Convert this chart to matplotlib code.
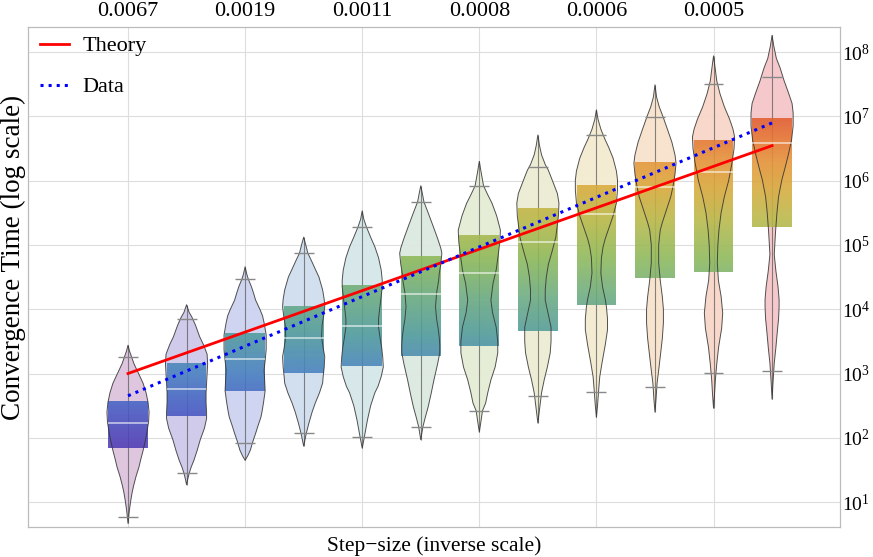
import numpy as np
import matplotlib.pyplot as plt
from matplotlib.colors import LinearSegmentedColormap, Normalize, to_rgba
from matplotlib.ticker import NullLocator

plt.rcParams['font.family'] = ['Liberation Serif', 'DejaVu Serif']
plt.rcParams['mathtext.fontset'] = 'stix'

# step-size labels shown on the top axis (every other violin)
step_labels = ['0.0067', '0.0019', '0.0011', '0.0008', '0.0006', '0.0005']
positions = np.arange(12)

# box (IQR) and median values, convergence time
box_lo = [69, 219, 537, 1023, 1318, 1862, 2692, 4571, 11749, 30903, 38019, 190546]
box_med = [170, 575, 1700, 3550, 5500, 17400, 36300, 110000, 302000, 794000, 1.35e6, 3.8e6]
box_hi = [372, 1445, 4266, 11220, 23988, 67608, 141254, 371535, 851138, 1.95e6, 4.27e6, 9.33e6]

# whisker caps
cap_lo = [5.9, 28, 83, 117, 102, 148, 263, 447, 513, 617, 1023, 1096]
cap_hi = [1820, 7080, 29500, 74000, 190000, 468000, 832000, 1.62e6, 5.13e6, 9.77e6, 3.16e7, 4.07e7]

# violin outlines: (log10 time, relative half-width), top to bottom
shapes = [
    [(3.44, 0), (3.35, 1.5), (3.26, 3.5), (3.15, 6), (3.05, 9), (2.95, 12), (2.85, 15),
     (2.7, 18), (2.55, 20), (2.4, 21), (2.25, 20.5), (2.1, 19), (1.97, 17.5), (1.8, 15),
     (1.65, 12.5), (1.55, 11), (1.4, 8), (1.25, 5.5), (1.14, 4), (1.0, 2.5), (0.85, 1.2),
     (0.67, 0)],
    [(4.07, 0), (3.95, 2.5), (3.88, 5), (3.75, 8.5), (3.57, 12.5), (3.45, 16), (3.3, 19.5),
     (3.15, 20), (3.0, 19.5), (2.85, 19), (2.7, 18.5), (2.55, 18.5), (2.4, 19), (2.3, 19),
     (2.15, 17), (1.97, 13), (1.8, 10), (1.65, 7), (1.55, 4.5), (1.45, 2.5), (1.35, 1),
     (1.27, 0)],
    [(4.66, 0), (4.55, 1.5), (4.47, 3), (4.35, 6), (4.25, 8), (4.14, 10), (4.0, 14),
     (3.9, 16.5), (3.79, 18), (3.6, 20), (3.45, 20), (3.37, 20), (3.2, 19), (3.05, 18),
     (2.9, 18.5), (2.73, 19), (2.55, 17.5), (2.4, 16), (2.32, 15), (2.2, 12.5), (2.07, 10),
     (1.95, 7.5), (1.81, 5), (1.72, 2.5), (1.65, 0)],
    [(5.12, 0), (5.0, 2), (4.87, 4), (4.75, 7.5), (4.66, 10), (4.5, 14.5), (4.3, 18),
     (4.15, 19.5), (4.04, 20), (3.9, 19), (3.75, 17.5), (3.57, 17), (3.4, 18.5), (3.26, 20),
     (3.1, 19.5), (2.95, 18.5), (2.85, 18), (2.7, 15), (2.54, 11), (2.4, 8), (2.23, 5),
     (2.07, 2.5), (1.95, 1), (1.87, 0)],
    [(5.53, 0), (5.4, 1.5), (5.28, 4), (5.12, 8), (4.97, 12), (4.8, 15.5), (4.61, 18),
     (4.45, 19), (4.35, 19), (4.2, 18), (4.0, 16.5), (3.85, 15.5), (3.72, 15.5), (3.55, 17),
     (3.4, 18.5), (3.25, 19.5), (3.1, 20), (2.95, 18), (2.8, 15), (2.7, 12), (2.5, 8),
     (2.28, 5), (2.1, 3), (2.01, 2), (1.84, 0)],
    [(5.92, 0), (5.8, 1.5), (5.67, 3), (5.5, 7), (5.28, 12), (5.1, 16), (4.95, 19),
     (4.87, 20), (4.7, 19), (4.55, 17.5), (4.45, 17), (4.25, 15), (4.04, 14), (3.85, 15),
     (3.7, 16.5), (3.57, 17.5), (3.45, 18), (3.32, 18), (3.15, 16), (2.9, 12.5), (2.7, 10),
     (2.48, 7), (2.3, 4), (2.17, 2), (1.97, 0)],
    [(6.30, 0), (6.15, 1.5), (5.92, 4), (5.78, 8), (5.65, 12), (5.45, 16.5), (5.23, 20),
     (5.05, 19.5), (4.85, 18), (4.61, 16), (4.4, 13), (4.14, 11), (3.95, 12.5), (3.72, 16),
     (3.5, 17.5), (3.32, 17.5), (3.1, 15), (2.9, 11), (2.7, 8), (2.54, 6), (2.42, 3),
     (2.25, 1.5), (2.09, 0)],
    [(6.71, 0), (6.55, 1.5), (6.40, 3.5), (6.25, 7), (6.16, 10), (5.95, 15), (5.8, 18.5),
     (5.65, 20), (5.45, 19.5), (5.25, 18), (5.12, 17), (4.9, 13.5), (4.7, 10), (4.5, 8),
     (4.3, 7), (4.14, 7), (3.95, 9.5), (3.72, 12.5), (3.5, 12.5), (3.32, 11.7), (3.1, 9),
     (2.9, 6), (2.7, 3.5), (2.5, 2), (2.23, 0)],
    [(7.10, 0), (6.95, 1.5), (6.80, 4), (6.65, 7.5), (6.52, 11), (6.35, 15), (6.15, 18),
     (6.01, 19), (5.85, 19), (5.65, 18), (5.45, 15), (5.25, 11), (5.1, 8), (4.97, 6),
     (4.8, 4.5), (4.56, 4), (4.35, 5.5), (4.15, 8), (4.04, 9), (3.85, 10), (3.68, 10),
     (3.45, 8), (3.16, 5), (2.95, 3), (2.74, 2), (2.5, 1), (2.32, 0)],
    [(7.49, 0), (7.3, 1.5), (7.15, 4), (7.0, 7.5), (6.79, 12), (6.6, 16), (6.4, 19),
     (6.27, 20), (6.1, 19), (5.9, 17), (5.75, 15), (5.55, 11), (5.35, 7), (5.23, 5),
     (5.0, 3.5), (4.72, 3.5), (4.45, 5), (4.19, 7), (4.0, 8), (3.79, 8), (3.55, 7),
     (3.26, 5), (3.05, 3.5), (2.85, 2), (2.6, 1), (2.40, 0)],
    [(7.94, 0), (7.75, 1.5), (7.55, 3), (7.35, 6), (7.15, 10), (6.95, 15), (6.8, 18),
     (6.68, 19.5), (6.5, 19), (6.27, 17), (6.0, 14), (5.75, 10), (5.5, 7), (5.23, 5),
     (5.0, 4), (4.72, 3.5), (4.45, 4.5), (4.2, 7), (3.94, 8.5), (3.7, 7.5), (3.41, 4.7),
     (3.15, 3), (2.9, 1.7), (2.7, 1), (2.46, 0)],
    [(8.26, 0), (8.1, 1.5), (7.9, 4), (7.75, 7.5), (7.56, 11), (7.35, 15.5), (7.2, 18.5),
     (7.05, 19.5), (6.85, 19.5), (6.63, 18), (6.4, 15), (6.2, 12), (6.01, 9), (5.75, 6),
     (5.5, 4.5), (5.23, 3.3), (5.0, 2.5), (4.85, 2), (4.6, 3.5), (4.35, 5.5), (4.15, 6.5),
     (4.04, 6.5), (3.85, 6), (3.68, 5), (3.4, 3.5), (3.16, 2), (2.9, 1), (2.60, 0)],
]

violin_colors = ['#dcc3dd', '#cec8ea', '#cdd2f0', '#cfdeee', '#d5e7ea', '#dce9e0',
                 '#e4ecd5', '#ecedd3', '#f3ebd0', '#f8e3cc', '#f8d6c8', '#f5c6c9']

# fitted lines at first and last step size
line_x = [0, 11]
theory = [1.0e3, 3.5e6]
data_fit = [4.5e2, 7.9e6]

grad_levels = [1.8, 2.5, 3.0, 3.6, 4.2, 4.8, 5.4, 5.9, 6.3, 6.7, 7.0]
grad_colors = ['#5038b4', '#4660c4', '#4780c0', '#4f9a9c', '#6aaa80', '#8cb858',
               '#b8b848', '#d8aa3c', '#e4963a', '#e47432', '#e05a30']
lo, hi = grad_levels[0], grad_levels[-1]
cmap = LinearSegmentedColormap.from_list(
    'grad', [((v - lo) / (hi - lo), c) for v, c in zip(grad_levels, grad_colors)])
norm = Normalize(lo, hi)

fig = plt.figure(figsize=(8.73, 5.57), dpi=100)
ax = fig.add_axes([28 / 873, 30 / 557, 812 / 873, 500 / 557])
ax.set_yscale('log')

def stats_list():
    out = []
    for shp, med in zip(shapes, box_med):
        ly, w = np.array(shp, float).T
        c = 10 ** ly[::-1]
        out.append({'coords': c, 'vals': w[::-1], 'mean': med,
                    'median': med, 'min': c[0], 'max': c[-1]})
    return out

vp = ax.violin(stats_list(), positions=positions, widths=0.72,
               showmeans=False, showextrema=False, showmedians=False)
for body, col in zip(vp['bodies'], violin_colors):
    body.set_alpha(None)
    body.set_facecolor(to_rgba(col, 0.95))
    body.set_edgecolor('none')
    body.set_zorder(2)

tips_lo = [10 ** s[-1][0] for s in shapes]
tips_hi = [10 ** s[0][0] for s in shapes]
ax.vlines(positions, tips_lo, tips_hi, color='#555555', lw=0.8, alpha=0.7, zorder=2.5)

bw = 0.34
for p, a, b in zip(positions, box_lo, box_hi):
    ys = np.logspace(np.log10(a), np.log10(b), 60)
    mids = np.log10(np.sqrt(ys[:-1] * ys[1:]))[:, None]
    ax.pcolormesh([p - bw, p + bw], ys, mids, cmap=cmap, norm=norm,
                  alpha=0.88, shading='flat', zorder=3, edgecolors='none')

vp2 = ax.violin(stats_list(), positions=positions, widths=0.72,
                showmeans=False, showextrema=False, showmedians=False)
for body in vp2['bodies']:
    body.set_alpha(None)
    body.set_facecolor('none')
    body.set_edgecolor(to_rgba('#333333', 0.85))
    body.set_linewidth(0.7)
    body.set_zorder(4)

ax.hlines(cap_lo, positions - 0.17, positions + 0.17, color='#888888', lw=1, zorder=4)
ax.hlines(cap_hi, positions - 0.17, positions + 0.17, color='#888888', lw=1, zorder=4)
ax.hlines(box_med, positions - bw, positions + bw, color='white', alpha=0.65, lw=1.2, zorder=5)

ax.plot(line_x, theory, color='red', lw=2, label='Theory', zorder=6)
ax.plot(line_x, data_fit, color='blue', lw=2.2, ls=':', label='Data', zorder=6)

xlim = (-1.708, 12.16)
ax.set_xlim(xlim)
ax.set_ylim(4.1, 2.45e8)
ax.set_xticks(positions[::2])
ax.set_xticklabels([])
ax.set_yticks([10.0 ** k for k in range(1, 9)])
ax.yaxis.set_minor_locator(NullLocator())
ax.yaxis.tick_right()
ax.tick_params(axis='both', length=0, labelsize=14)
ax.tick_params(axis='y', pad=1.5)
ax.grid(True, color='#dddddd', lw=0.8)
ax.set_axisbelow(True)

ax2 = ax.twiny()
ax2.set_xlim(xlim)
ax2.set_xticks(positions[::2])
ax2.set_xticklabels(step_labels)
ax2.tick_params(axis='x', length=0, labelsize=16, pad=4)

for a in (ax, ax2):
    for s in a.spines.values():
        s.set_color('#bbbbbb')

ax.set_xlabel('Step\u2212size (inverse scale)', fontsize=15.5, labelpad=3)
ax.set_ylabel('Convergence Time (log scale)', fontsize=19.5)
ax.yaxis.set_label_position('left')
ax.yaxis.set_label_coords(-0.0025, 0.54)

ax.legend(loc='upper left', bbox_to_anchor=(0.009, 0.991), frameon=False, fontsize=16,
          handlelength=1.3, handletextpad=0.64, labelspacing=0.92,
          borderpad=0.2, borderaxespad=0)

fig.savefig('out.png', dpi=100)
